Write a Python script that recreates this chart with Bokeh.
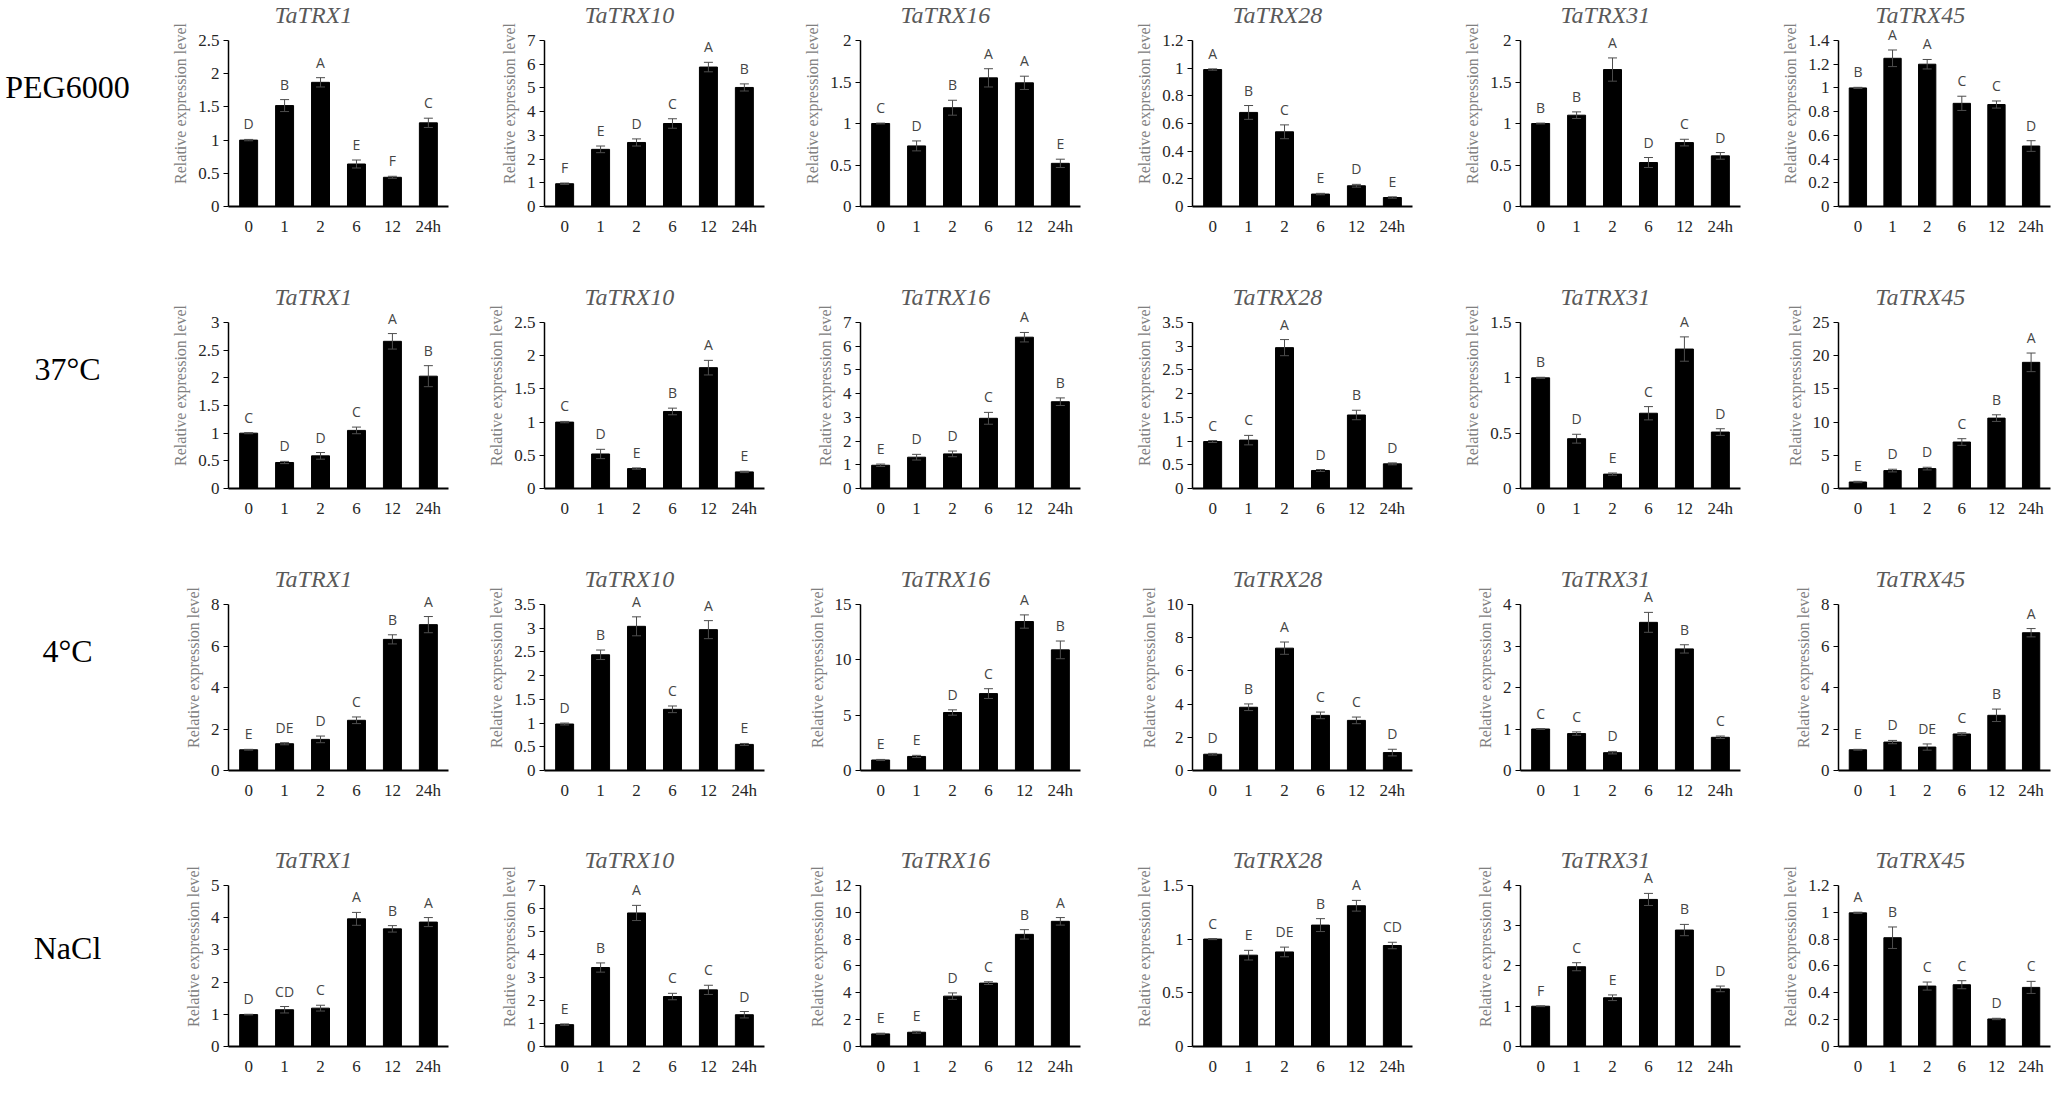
from bokeh.plotting import figure
from bokeh.layouts import row, column
from bokeh.models import (ColumnDataSource, Whisker, TeeHead, FactorRange, Range1d,
                          FixedTicker, LabelSet, Label)
from bokeh.embed import file_html
from bokeh.resources import INLINE
from bokeh.core.properties import value

# ---------------- data ----------------
TIMES = ["0", "1", "2", "6", "12", "24h"]
GENES = ["TaTRX1", "TaTRX10", "TaTRX16", "TaTRX28", "TaTRX31", "TaTRX45"]
CONDITIONS = ["PEG6000", "37°C", "4°C", "NaCl"]

PEG_MEAN = [
    [1.00, 1.52, 1.87, 0.64, 0.44, 1.26],
    [0.96, 2.41, 2.70, 3.50, 5.88, 5.02],
    [1.00, 0.73, 1.19, 1.55, 1.49, 0.52],
    [0.99, 0.68, 0.54, 0.09, 0.15, 0.065],
    [1.00, 1.10, 1.65, 0.53, 0.77, 0.61],
    [1.00, 1.25, 1.20, 0.87, 0.86, 0.51],
]
PEG_ERR = [
    [0.01, 0.09, 0.07, 0.06, 0.015, 0.07],
    [0.03, 0.14, 0.15, 0.20, 0.20, 0.15],
    [0.005, 0.06, 0.09, 0.11, 0.08, 0.05],
    [0.005, 0.05, 0.05, 0.005, 0.01, 0.005],
    [0.005, 0.04, 0.14, 0.06, 0.04, 0.04],
    [0.005, 0.07, 0.04, 0.06, 0.03, 0.045],
]
PEG_LET = [
    ["D", "B", "A", "E", "F", "C"],
    ["F", "E", "D", "C", "A", "B"],
    ["C", "D", "B", "A", "A", "E"],
    ["A", "B", "C", "E", "D", "E"],
    ["B", "B", "A", "D", "C", "D"],
    ["B", "A", "A", "C", "C", "D"],
]
PEG_TICKS = [
    [0, 0.5, 1, 1.5, 2, 2.5],
    [0, 1, 2, 3, 4, 5, 6, 7],
    [0, 0.5, 1, 1.5, 2],
    [0, 0.2, 0.4, 0.6, 0.8, 1, 1.2],
    [0, 0.5, 1, 1.5, 2],
    [0, 0.2, 0.4, 0.6, 0.8, 1, 1.2, 1.4],
]

HEAT_MEAN = [
    [1.00, 0.47, 0.59, 1.05, 2.66, 2.03],
    [1.00, 0.52, 0.30, 1.16, 1.82, 0.25],
    [0.98, 1.32, 1.46, 2.96, 6.38, 3.66],
    [0.99, 1.02, 2.97, 0.38, 1.55, 0.52],
    [1.00, 0.45, 0.13, 0.68, 1.26, 0.51],
    [0.98, 2.70, 3.00, 7.00, 10.6, 19.0],
]
HEAT_ERR = [
    [0.01, 0.02, 0.06, 0.06, 0.14, 0.19],
    [0.01, 0.07, 0.01, 0.05, 0.11, 0.01],
    [0.05, 0.12, 0.12, 0.25, 0.20, 0.16],
    [0.02, 0.10, 0.17, 0.02, 0.10, 0.02],
    [0.005, 0.04, 0.01, 0.06, 0.11, 0.03],
    [0.10, 0.20, 0.20, 0.50, 0.50, 1.40],
]
HEAT_LET = [
    ["C", "D", "D", "C", "A", "B"],
    ["C", "D", "E", "B", "A", "E"],
    ["E", "D", "D", "C", "A", "B"],
    ["C", "C", "A", "D", "B", "D"],
    ["B", "D", "E", "C", "A", "D"],
    ["E", "D", "D", "C", "B", "A"],
]
HEAT_TICKS = [
    [0, 0.5, 1, 1.5, 2, 2.5, 3],
    [0, 0.5, 1, 1.5, 2, 2.5],
    [0, 1, 2, 3, 4, 5, 6, 7],
    [0, 0.5, 1, 1.5, 2, 2.5, 3, 3.5],
    [0, 0.5, 1, 1.5],
    [0, 5, 10, 15, 20, 25],
]

COLD_MEAN = [
    [1.00, 1.29, 1.50, 2.42, 6.32, 7.03],
    [0.98, 2.44, 3.04, 1.29, 2.97, 0.55],
    [0.95, 1.27, 5.24, 6.95, 13.46, 10.9],
    [0.98, 3.81, 7.37, 3.32, 3.02, 1.08],
    [1.00, 0.89, 0.43, 3.57, 2.93, 0.80],
    [1.00, 1.37, 1.13, 1.76, 2.66, 6.64],
]
COLD_ERR = [
    [0.02, 0.05, 0.16, 0.16, 0.22, 0.39],
    [0.02, 0.10, 0.20, 0.07, 0.19, 0.02],
    [0.05, 0.10, 0.24, 0.44, 0.60, 0.80],
    [0.05, 0.20, 0.37, 0.20, 0.20, 0.20],
    [0.01, 0.04, 0.03, 0.24, 0.10, 0.03],
    [0.02, 0.08, 0.15, 0.06, 0.30, 0.20],
]
COLD_LET = [
    ["E", "DE", "D", "C", "B", "A"],
    ["D", "B", "A", "C", "A", "E"],
    ["E", "E", "D", "C", "A", "B"],
    ["D", "B", "A", "C", "C", "D"],
    ["C", "C", "D", "A", "B", "C"],
    ["E", "D", "DE", "C", "B", "A"],
]
COLD_TICKS = [
    [0, 2, 4, 6, 8],
    [0, 0.5, 1, 1.5, 2, 2.5, 3, 3.5],
    [0, 5, 10, 15],
    [0, 2, 4, 6, 8, 10],
    [0, 1, 2, 3, 4],
    [0, 2, 4, 6, 8],
]

SALT_MEAN = [
    [0.99, 1.14, 1.19, 3.96, 3.65, 3.86],
    [0.95, 3.43, 5.80, 2.17, 2.46, 1.38],
    [0.94, 1.06, 3.75, 4.72, 8.35, 9.32],
    [1.00, 0.85, 0.88, 1.13, 1.31, 0.94],
    [1.00, 1.98, 1.21, 3.65, 2.89, 1.43],
    [0.995, 0.81, 0.45, 0.46, 0.205, 0.44],
]
SALT_ERR = [
    [0.01, 0.10, 0.09, 0.20, 0.10, 0.14],
    [0.03, 0.20, 0.33, 0.14, 0.20, 0.14],
    [0.05, 0.07, 0.24, 0.10, 0.35, 0.28],
    [0.005, 0.045, 0.045, 0.06, 0.05, 0.03],
    [0.01, 0.10, 0.07, 0.15, 0.14, 0.07],
    [0.005, 0.08, 0.03, 0.03, 0.005, 0.045],
]
SALT_LET = [
    ["D", "CD", "C", "A", "B", "A"],
    ["E", "B", "A", "C", "C", "D"],
    ["E", "E", "D", "C", "B", "A"],
    ["C", "E", "DE", "B", "A", "CD"],
    ["F", "C", "E", "A", "B", "D"],
    ["A", "B", "C", "C", "D", "C"],
]
SALT_TICKS = [
    [0, 1, 2, 3, 4, 5],
    [0, 1, 2, 3, 4, 5, 6, 7],
    [0, 2, 4, 6, 8, 10, 12],
    [0, 0.5, 1, 1.5],
    [0, 1, 2, 3, 4],
    [0, 0.2, 0.4, 0.6, 0.8, 1, 1.2],
]

ROWS = [
    (PEG_MEAN, PEG_ERR, PEG_LET, PEG_TICKS),
    (HEAT_MEAN, HEAT_ERR, HEAT_LET, HEAT_TICKS),
    (COLD_MEAN, COLD_ERR, COLD_LET, COLD_TICKS),
    (SALT_MEAN, SALT_ERR, SALT_LET, SALT_TICKS),
]

# ---------------- layout constants ----------------
LABEL_W = 150
PANEL_WIDTHS = [316, 316, 332, 328, 318, 292]
FRAME_WIDTHS = [220, 220, 220, 220, 220, 212]
BORDER_L = 78
TICK_TOP = 40      # px from figure top to the highest tick
TITLE_Y = 14       # px from figure top to title centre
PLOT_H = 166       # px from highest tick to x axis
ROW_H = 282
LAST_BOTTOM = 26
TITLE_X = 2.3      # title centre, in category units

SERIF = "Liberation Serif"
SANS = "Open Sans"


def make_panel(gene, mean, err, letters, ticks, width, frame_w, height, bottom):
    top_tick = ticks[-1]
    frame_h = height - bottom
    y_end = top_tick * frame_h / PLOT_H
    src = ColumnDataSource(dict(
        x=TIMES, top=mean,
        upper=[m + e for m, e in zip(mean, err)],
        lower=[m - e for m, e in zip(mean, err)],
        lab=letters,
    ))
    p = figure(width=width, height=height, x_range=FactorRange(*TIMES),
               y_range=Range1d(0, y_end), output_backend="svg",
               toolbar_location=None, tools="",
               min_border_left=BORDER_L, min_border_right=width - BORDER_L - frame_w,
               min_border_top=0, min_border_bottom=bottom)
    p.x_range.range_padding = 0.02
    p.outline_line_color = None
    p.grid.visible = False
    p.background_fill_color = "white"
    p.border_fill_color = "white"

    p.vbar(x="x", top="top", width=0.5, source=src, fill_color="black",
           line_color="black")
    w = Whisker(base="x", upper="upper", lower="lower", source=src,
                line_color="#4d4d4d", line_width=1,
                upper_head=TeeHead(size=9, line_color="#4d4d4d", line_width=1),
                lower_head=TeeHead(size=9, line_color="#4d4d4d", line_width=1),
                level="overlay")
    p.add_layout(w)
    ls = LabelSet(x="x", y="upper", text="lab", source=src, y_offset=6,
                  text_align="center", text_baseline="bottom",
                  text_font=value(SANS), text_font_size="14px",
                  text_color="#454545")
    p.add_layout(ls)

    title_y = top_tick * (frame_h - TITLE_Y) / PLOT_H
    p.add_layout(Label(x=TITLE_X, y=title_y, text=gene, text_align="center",
                       text_baseline="middle", text_font=SERIF,
                       text_font_style="italic", text_font_size="24px",
                       text_color="#595959"))

    ya = p.yaxis[0]
    ya.ticker = FixedTicker(ticks=ticks)
    ya.bounds = (0, top_tick)
    ya.major_label_overrides = {t: f"{t:g}" for t in ticks}
    ya.minor_tick_line_color = None
    ya.major_tick_in = 0
    ya.major_tick_out = 5
    ya.axis_line_width = 1.5
    ya.axis_line_color = "black"
    ya.major_tick_line_color = "black"
    ya.major_label_text_font = SERIF
    ya.major_label_text_font_size = "17px"
    ya.major_label_text_color = "#262626"
    ya.major_label_standoff = 4
    ya.axis_label = "Relative expression level"
    ya.axis_label_text_font = SERIF
    ya.axis_label_text_font_style = "normal"
    ya.axis_label_text_font_size = "16px"
    ya.axis_label_text_color = "#808080"
    ya.axis_label_standoff = 6

    xa = p.xaxis[0]
    xa.major_tick_line_color = None
    xa.minor_tick_line_color = None
    xa.axis_line_width = 2
    xa.axis_line_color = "black"
    xa.major_label_text_font = SERIF
    xa.major_label_text_font_size = "17px"
    xa.major_label_text_color = "#262626"
    xa.major_label_standoff = 4
    return p


def make_row_label(text, height):
    p = figure(width=LABEL_W, height=height, x_range=Range1d(0, LABEL_W),
               y_range=Range1d(0, height), output_backend="svg",
               toolbar_location=None, tools="", min_border=0)
    p.axis.visible = False
    p.grid.visible = False
    p.outline_line_color = None
    src = ColumnDataSource(dict(x=[67], y=[height - TICK_TOP - PLOT_H / 2 + 5], t=[text]))
    p.text(x="x", y="y", text="t", source=src, text_font=value(SERIF),
           text_font_size="32px", text_color="black", text_align="center",
           text_baseline="middle")
    return p


rows = []
for r, (means, errs, lets, ticks) in enumerate(ROWS):
    last_row = r == len(ROWS) - 1
    h = TICK_TOP + PLOT_H + LAST_BOTTOM if last_row else ROW_H
    bottom = h - TICK_TOP - PLOT_H
    children = [make_row_label(CONDITIONS[r], h)]
    for g in range(6):
        children.append(make_panel(GENES[g], means[g], errs[g], lets[g], ticks[g],
                                   PANEL_WIDTHS[g], FRAME_WIDTHS[g], h, bottom))
    rows.append(row(*children))

layout = column(*rows)

open("out.html", "w").write(file_html(layout, INLINE))
